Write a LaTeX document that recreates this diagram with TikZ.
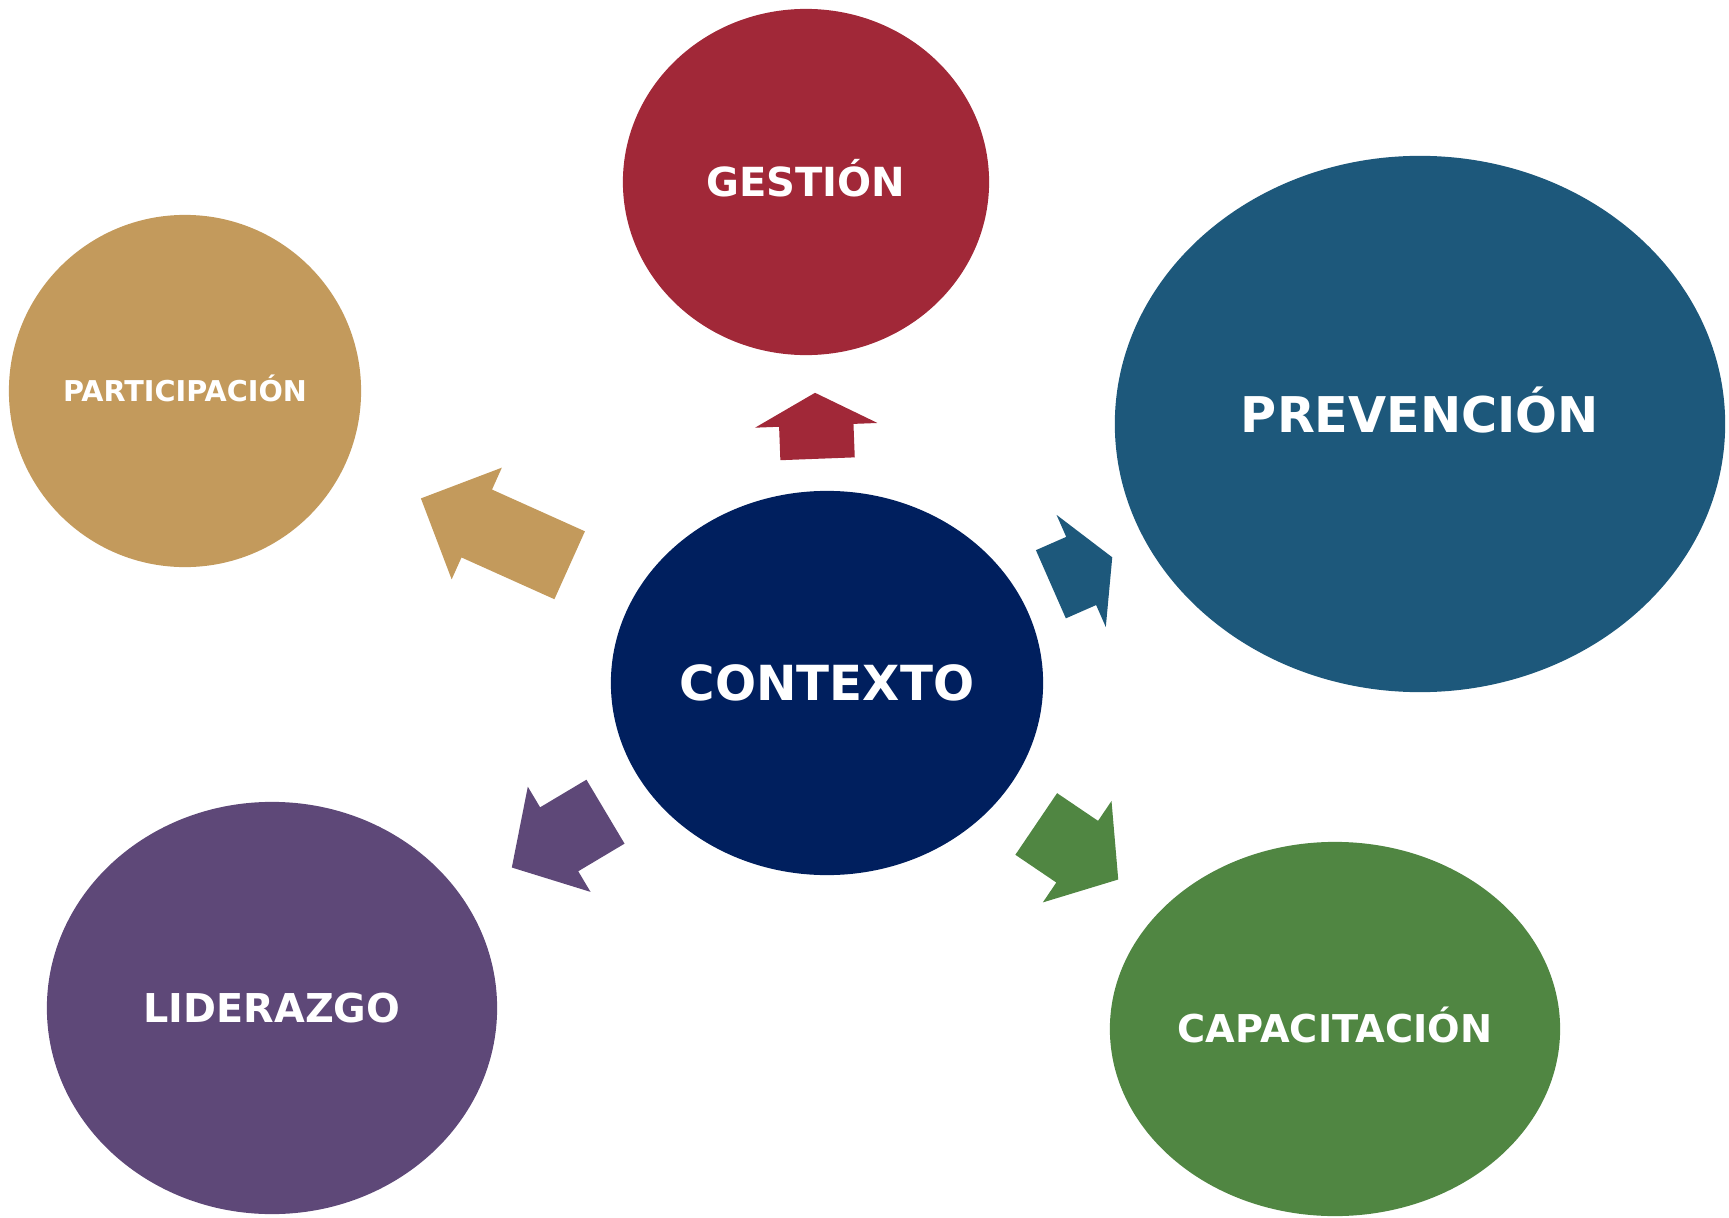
\documentclass[tikz,border=0pt]{standalone}
\usepackage{fontspec}
\setmainfont{DejaVu Sans}
\usepackage{tikz}
\usetikzlibrary{shapes.geometric}
\usetikzlibrary{shapes.arrows}

\definecolor{rojo}{RGB}{161,40,56}
\definecolor{ocre}{RGB}{195,154,92}
\definecolor{azul}{RGB}{29,88,123}
\definecolor{marino}{RGB}{0,31,94}
\definecolor{morado}{RGB}{94,72,120}
\definecolor{verde}{RGB}{80,134,66}

\tikzset{
  elipse/.style={ellipse, fill=#1, draw=none, text=white, inner sep=0pt, text depth=0pt},
  flecha/.style={single arrow, fill=#1, draw=none, inner sep=0pt, text height=7.3mm,
    text depth=0pt, single arrow head extend=2.4mm, anchor=tip}
}

\begin{document}
\begin{tikzpicture}[x=0.01cm, y=-0.01cm]
\useasboundingbox (0,0) rectangle (1729,1218);
\node[elipse=rojo, minimum width=3.66cm, minimum height=3.46cm, font=\fontsize{11.4}{13}\selectfont\bfseries, text height=8.3pt] (gestion) at (806,182) {GESTIÓN};
\node[elipse=ocre, minimum width=3.52cm, minimum height=3.52cm, font=\fontsize{8.15}{9}\selectfont\bfseries, text height=5.9pt] (participacion) at (185,391) {PARTICIPACIÓN};
\node[elipse=azul, minimum width=6.10cm, minimum height=5.36cm, font=\fontsize{14}{16}\selectfont\bfseries, text height=10.2pt, text depth=5.1pt] (prevencion) at (1420,424) {PREVENCIÓN};
\node[elipse=marino, minimum width=4.32cm, minimum height=3.84cm, font=\fontsize{13.75}{16}\selectfont\bfseries, text height=10pt] (contexto) at (827,683) {CONTEXTO};
\node[elipse=morado, minimum width=4.50cm, minimum height=4.12cm, font=\fontsize{11.3}{13}\selectfont\bfseries, text height=8.2pt] (liderazgo) at (272,1008) {LIDERAZGO};
\node[elipse=verde, minimum width=4.50cm, minimum height=3.74cm, font=\fontsize{10.9}{12}\selectfont\bfseries, text height=7.9pt] (capacitacion) at (1335,1029) {CAPACITACIÓN};
% flechas desde el contexto
\foreach \nombre/\color/\x/\y/\ang/\largo/\punta in {
  gestion/rojo/815/392/92.2/0.66/124,
  participacion/ocre/420/498/155.8/1.63/90,
  prevencion/azul/1113/557/23.7/0.67/122,
  liderazgo/morado/511/868/210.8/1.09/96,
  capacitacion/verde/1119/880/325.9/0.99/102} {
  \node[flecha=\color, rotate=\ang, minimum height=\largo cm, single arrow tip angle=\punta] (f_\nombre) at (\x,\y) {};
}
\end{tikzpicture}
\end{document}
